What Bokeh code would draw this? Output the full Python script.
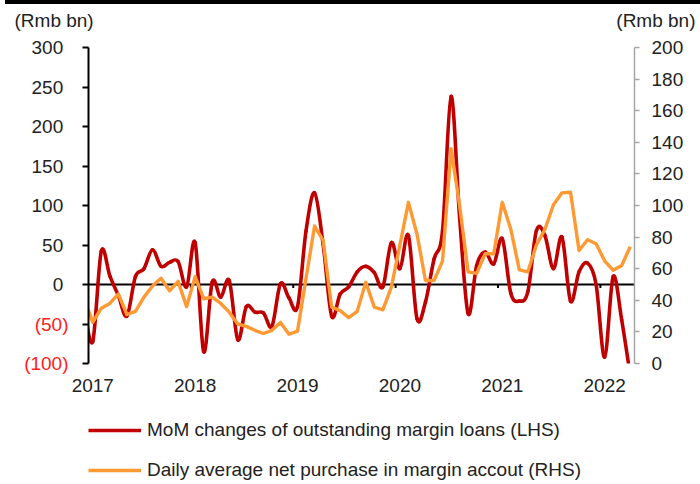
import numpy as np
from bokeh.plotting import figure
from bokeh.models import (Range1d, LinearAxis, Legend, LegendItem, Label,
                          ColumnDataSource, FixedTicker, Span, Div)
from bokeh.layouts import column
from bokeh.embed import file_html
from bokeh.resources import INLINE

# ---------------- data (monthly, Dec 2016 .. Apr 2022) ----------------
first_month = (2016, 12)
margin_mom = [  # MoM changes of outstanding margin loans, Rmb bn (LHS)
    -30,
    -72, 42, 11, -14, -40, 10, 20, 44, 23, 28, 29, -3,          # 2017
    53, -85, 3, -16, 5, -70, -28, -35, -36, -53, 1, -17,         # 2018
    -28, 68, 116, 51, -40, -12, -3, 16, 23, 15, -3, 53,          # 2019
    20, 62, -43, -22, 32, 68, 238, 85, -37, 24, 41, 26,          # 2020
    58, -11, -21, -9, 68, 62, 20, 60, -21, 16, 27, 0,            # 2021
    -92, 10, -45, -115,                                          # 2022
]
net_purchase = [  # daily average net purchase in margin account, Rmb bn (RHS)
    41,
    26, 35, 38, 44, 31, 33, 42, 49, 54, 46, 52, 36,              # 2017
    55, 41, 42, 38, 32.5, 25, 23.5, 21, 19, 21, 26, 18.5,        # 2018
    20.5, 54, 87, 78, 35.7, 33.5, 29, 33, 51.5, 35.7, 34, 48.3,  # 2019
    75, 102, 82, 52.5, 52.5, 65, 136, 100, 58, 57, 69.5, 69.5,   # 2020
    102, 85, 59.3, 58, 75, 85, 100.5, 108, 108.4, 71.5, 78.3, 75.8,  # 2021
    65, 59, 62, 74,                                              # 2022
]
year_labels = ["2017", "2018", "2019", "2020", "2021", "2022"]
left_ticks = [300, 250, 200, 150, 100, 50, 0, -50, -100]
right_ticks = [0, 20, 40, 60, 80, 100, 120, 140, 160, 180, 200]
unit_label = "(Rmb bn)"
series_names = ["MoM changes of outstanding margin loans (LHS)",
                "Daily average net purchase in margin accout (RHS)"]

# ---------------- geometry ----------------
FIG_W = 700
BAR_H = 4          # black rule at the very top
HEAD_H = 30        # strip holding the two unit labels
MAIN_H = 366       # chart
LEG_H = 484 - BAR_H - HEAD_H - MAIN_H   # legend strip
B_LEFT, B_RIGHT, B_TOP = 87, 66, 13
B_BOTTOM = MAIN_H - B_TOP - 316
x_start, x_end = 2017.0, 2022 + 4 / 12

RED = "#C00000"
ORANGE = "#FF9933"
FONT = "Liberation Sans"
FS = "19px"
TXT = "#222222"
RED_W, ORANGE_W = 3.6, 3.4

n = len(margin_mom)
xs = []
y0, m0 = first_month
for i in range(n):
    m = m0 - 1 + i
    xs.append(y0 + m // 12 + ((m % 12) + 0.5) / 12)
xs = np.array(xs)

def smooth_segments(x, y):
    x = np.asarray(x, float)
    y = np.asarray(y, float)
    k = len(x)
    d = dict(x0=[], y0=[], x1=[], y1=[], cx0=[], cy0=[], cx1=[], cy1=[])
    for i in range(k - 1):
        ip = max(i - 1, 0)
        inn = min(i + 2, k - 1)
        d["x0"].append(x[i]); d["y0"].append(y[i])
        d["x1"].append(x[i + 1]); d["y1"].append(y[i + 1])
        d["cx0"].append(x[i] + (x[i + 1] - x[ip]) / 6)
        d["cy0"].append(y[i] + (y[i + 1] - y[ip]) / 6)
        d["cx1"].append(x[i + 1] - (x[inn] - x[i]) / 6)
        d["cy1"].append(y[i + 1] - (y[inn] - y[i]) / 6)
    return ColumnDataSource(d)

def blank_strip(h, left=0, top=0):
    f = figure(width=FIG_W, height=h, output_backend="svg", toolbar_location=None,
               x_range=Range1d(left, FIG_W), y_range=Range1d(h, top),
               x_axis_type=None, y_axis_type=None,
               min_border_left=left, min_border_top=top,
               min_border_right=0, min_border_bottom=0,
               background_fill_color="white", border_fill_color="white")
    f.frame_align = False
    f.outline_line_color = None
    f.grid.visible = False
    return f

# ---------------- header strip with unit labels ----------------
head = blank_strip(HEAD_H)
head.add_layout(Label(x=14, y=16, text=unit_label, text_align="left", text_baseline="middle",
                      text_font=FONT, text_font_size=FS, text_color=TXT))
head.add_layout(Label(x=695, y=16, text=unit_label, text_align="right", text_baseline="middle",
                      text_font=FONT, text_font_size=FS, text_color=TXT))

# ---------------- main chart ----------------
p = figure(width=FIG_W, height=MAIN_H, output_backend="svg", toolbar_location=None,
           x_range=Range1d(x_start, x_end), y_range=Range1d(-100, 300),
           min_border_left=B_LEFT, min_border_right=B_RIGHT,
           min_border_top=B_TOP, min_border_bottom=B_BOTTOM,
           background_fill_color="white", border_fill_color="white")
p.outline_line_color = None
p.grid.visible = False
p.extra_y_ranges = {"right": Range1d(0, 200)}

# zero line and small year ticks on it
p.add_layout(Span(location=0, dimension="width", line_color="black", line_width=2, level="underlay"))
yr_starts = [int(s) for s in year_labels[1:]]
p.segment(x0=yr_starts, y0=[0] * len(yr_starts), x1=yr_starts, y1=[-4.5] * len(yr_starts),
          line_color="black", line_width=2, level="underlay")

p.bezier(source=smooth_segments(xs, margin_mom), x0="x0", y0="y0", x1="x1", y1="y1",
         cx0="cx0", cy0="cy0", cx1="cx1", cy1="cy1",
         line_color=RED, line_width=RED_W, line_cap="round")
p.line(xs, net_purchase, y_range_name="right", line_color=ORANGE,
       line_width=ORANGE_W, line_join="round")

# x axis (labels only)
xa = p.xaxis[0]
xa.ticker = FixedTicker(ticks=[int(s) + 0.5 / 12 for s in year_labels])
xa.major_label_overrides = {int(s) + 0.5 / 12: s for s in year_labels}
xa.axis_line_color = None
xa.major_tick_line_color = None
xa.minor_tick_line_color = None
xa.major_tick_out = 0
xa.major_tick_in = 0
xa.major_label_standoff = 15
xa.major_label_text_font = FONT
xa.major_label_text_font_size = FS
xa.major_label_text_color = TXT

# left axis: positive labels in black (inner axis) ...
ya = p.yaxis[0]
ya.ticker = FixedTicker(ticks=left_ticks)
ya.major_label_overrides = {v: ("%d\u2008" % v if v >= 0 else "") for v in left_ticks}
ya.axis_line_color = "black"
ya.axis_line_width = 2
ya.major_tick_line_color = "black"
ya.major_tick_line_width = 2
ya.major_tick_out = 6
ya.major_tick_in = 0
ya.minor_tick_line_color = None
ya.major_label_standoff = 14
ya.major_label_text_font = FONT
ya.major_label_text_font_size = FS
ya.major_label_text_color = TXT

# ... negative labels "(50)" in red (outer axis, pulled back onto the same column)
yneg = LinearAxis(ticker=FixedTicker(ticks=left_ticks))
yneg.major_label_overrides = {v: ("(%d)" % abs(v) if v < 0 else "") for v in left_ticks}
yneg.axis_line_color = None
yneg.major_tick_line_color = None
yneg.minor_tick_line_color = None
yneg.major_tick_out = 0
yneg.major_tick_in = 0
yneg.major_label_standoff = -40
yneg.major_label_text_font = FONT
yneg.major_label_text_font_size = FS
yneg.major_label_text_color = "#FF2020"
p.add_layout(yneg, "left")

# right axis
ra = LinearAxis(y_range_name="right", ticker=FixedTicker(ticks=right_ticks))
ra.axis_line_color = "#A6A6A6"
ra.axis_line_width = 1.5
ra.major_tick_line_color = "#A6A6A6"
ra.major_tick_line_width = 1.5
ra.major_tick_out = 5
ra.major_tick_in = 0
ra.minor_tick_line_color = None
ra.major_label_standoff = 12
ra.major_label_text_font = FONT
ra.major_label_text_font_size = FS
ra.major_label_text_color = TXT
p.add_layout(ra, "right")

# ---------------- legend strip ----------------
pl = blank_strip(LEG_H, left=88, top=19)
leg_red = pl.line(x=[np.nan], y=[np.nan], line_color=RED, line_width=RED_W)
leg_orange = pl.line(x=[np.nan], y=[np.nan], line_color=ORANGE, line_width=ORANGE_W)
legend = Legend(items=[LegendItem(label=series_names[0], renderers=[leg_red]),
                       LegendItem(label=series_names[1], renderers=[leg_orange])],
                location="top_left", orientation="vertical",
                glyph_width=53, glyph_height=20, label_standoff=6, spacing=18,
                padding=0, margin=0, border_line_color=None, background_fill_alpha=0,
                label_text_font=FONT, label_text_font_size=FS, label_text_color=TXT)
pl.add_layout(legend, "center")

bar = Div(text="", width=FIG_W - 5, height=BAR_H, margin=(0, 0, 0, 5),
          styles={"background-color": "black"})
layout = column(bar, head, p, pl, spacing=0)

open("out.html", "w").write(file_html(layout, INLINE))
